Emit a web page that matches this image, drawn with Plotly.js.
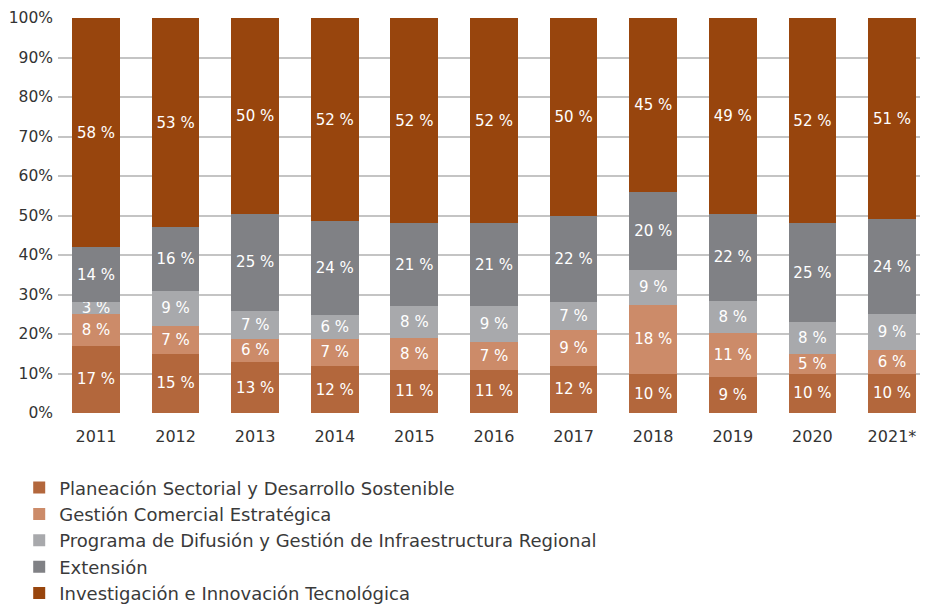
<!DOCTYPE html>
<html><head><meta charset="utf-8">
<script src="https://cdn.plot.ly/plotly-3.0.1.min.js"></script>
<style>html,body{margin:0;padding:0;background:#fff}#chart{width:925px;height:605px}</style>
</head><body><div id="chart"></div>
<script>
const years = ["2011","2012","2013","2014","2015","2016","2017","2018","2019","2020","2021*"];
const planeacion = [17,15,13,12,11,11,12,10,9,10,10];
const gestion = [8,7,6,7,8,7,9,18,11,5,6];
const programa = [3,9,7,6,8,9,7,9,8,8,9];
const extension = [14,16,25,24,21,21,22,20,22,25,24];
const investigacion = [58,53,50,52,52,52,50,45,49,52,51];
const names = ["Planeación Sectorial y Desarrollo Sostenible","Gestión Comercial Estratégica","Programa de Difusión y Gestión de Infraestructura Regional","Extensión","Investigación e Innovación Tecnológica"];
const series = [planeacion,gestion,programa,extension,investigacion];
const colors = ["#B3673C","#CC8B69","#A8A9AC","#808185","#98450D"];
const FONT = "'DejaVu Sans', sans-serif";
const traces = series.map((vals,i)=>({
  type:'bar', x:years, y:vals, name:names[i],
  marker:{color:colors[i], line:{width:0}},
  text: vals.map(v=>v+' %'), textposition:'inside', insidetextanchor:'middle',
  textfont:{color:'#ffffff', size:15, family:FONT}, constraintext:'none',
  hoverinfo:'skip'
}));
const layout = {
  width:925, height:605, barmode:'stack', barnorm:'percent', bargap:0.4,
  margin:{l:58,r:5,t:18,b:192,autoexpand:false},
  paper_bgcolor:'#fff', plot_bgcolor:'#fff',
  font:{family:FONT, color:'#333', size:15},
  xaxis:{type:'category', range:[-0.477,10.352], showgrid:false, ticks:'', tickfont:{size:16,color:'#333'}, showline:false, zeroline:false, ticklabelstandoff:12, automargin:false},
  yaxis:{range:[0,100], dtick:10, ticksuffix:'%', gridcolor:'#C4C4C4', gridwidth:2, zeroline:false, showline:false, tickfont:{size:15.5,color:'#333'}, ticklabelstandoff:4, automargin:false},
  showlegend:true,
  legend:{orientation:'v', x:-0.045, xanchor:'left', y:-0.1425, yanchor:'top', traceorder:'normal', font:{size:18,color:'#3a3a3a',family:FONT}, tracegroupgap:0, itemwidth:30},
  uniformtext:{mode:false}
};
Plotly.newPlot('chart', traces, layout, {displayModeBar:false, staticPlot:true});
</script></body></html>
